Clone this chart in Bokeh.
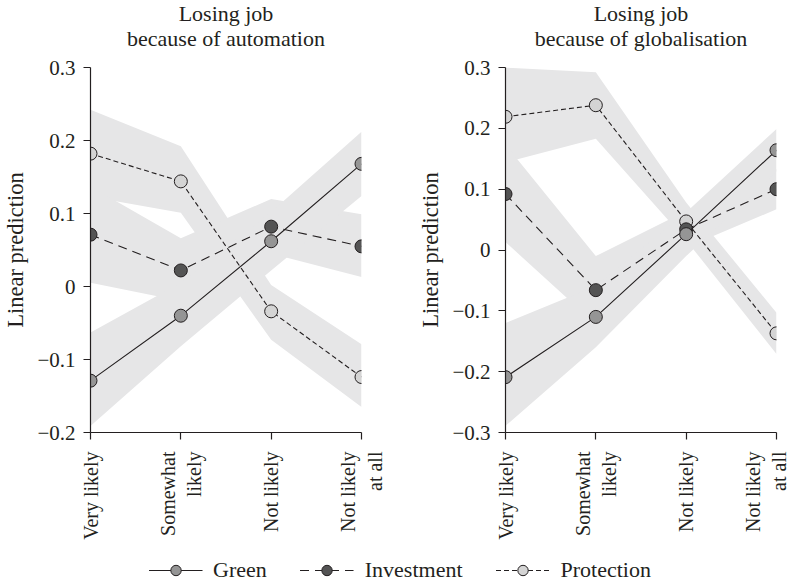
import math
from bokeh.plotting import figure
from bokeh.models import Range1d, FixedTicker, ColumnDataSource, Legend, LegendItem, Title
from bokeh.layouts import row, column
from bokeh.embed import file_html
from bokeh.resources import INLINE

# ---------------- data ----------------
categories = ["Very likely", "Somewhat\nlikely", "Not likely", "Not likely\nat all"]
series_names = ["Green", "Investment", "Protection"]

title_top = "Losing job"
title_bottom = ["because of automation", "because of globalisation"]

# Left panel: automation
auto_green = [-0.129, -0.040, 0.062, 0.168]
auto_green_lo = [-0.191, -0.082, 0.022, 0.124]
auto_green_hi = [-0.063, 0.005, 0.102, 0.212]
auto_invest = [0.071, 0.022, 0.082, 0.055]
auto_invest_lo = [0.005, -0.020, 0.045, 0.013]
auto_invest_hi = [0.137, 0.066, 0.120, 0.099]
auto_protect = [0.182, 0.144, -0.034, -0.124]
auto_protect_lo = [0.123, 0.101, -0.073, -0.165]
auto_protect_hi = [0.242, 0.192, 0.002, -0.079]

# Right panel: globalisation
glob_green = [-0.209, -0.110, 0.026, 0.164]
glob_green_lo = [-0.289, -0.160, -0.010, 0.129]
glob_green_hi = [-0.120, -0.059, 0.062, 0.199]
glob_invest = [0.092, -0.066, 0.034, 0.100]
glob_invest_lo = [0.013, -0.122, 0.004, 0.067]
glob_invest_hi = [0.173, -0.010, 0.064, 0.133]
glob_protect = [0.219, 0.238, 0.047, -0.137]
glob_protect_lo = [0.144, 0.183, 0.016, -0.171]
glob_protect_hi = [0.300, 0.292, 0.078, -0.103]

auto_yticks = [-0.2, -0.1, 0, 0.1, 0.2, 0.3]
glob_yticks = [-0.3, -0.2, -0.1, 0, 0.1, 0.2, 0.3]

# ---------------- style ----------------
FONT = "Liberation Serif"
TXT = "#231f20"
BAND = "#e6e6e7"
LINE = "#231f20"
FILLS = {"Green": "#959595", "Investment": "#545454", "Protection": "#d4d4d4"}
DASH = {"Green": "solid", "Investment": "9 6", "Protection": "5 3"}


def ylabel(v):
    if v == 0:
        return "0"
    s = f"{abs(v):.1f}"
    return ("\u2212" + s) if v < 0 else s


def style_title(t, standoff):
    t.align = "center"
    t.text_font = FONT
    t.text_font_size = "22px"
    t.text_font_style = "normal"
    t.text_color = TXT
    t.standoff = standoff


def panel(subtitle, yticks, data, left, right):
    xs = list(range(len(categories)))
    p = figure(frame_width=271, frame_height=365, output_backend="svg", toolbar_location=None,
               x_range=Range1d(0, len(categories) - 1),
               y_range=Range1d(min(yticks), max(yticks)),
               min_border_left=left, min_border_right=right,
               min_border_top=67, min_border_bottom=100)
    p.outline_line_color = None
    p.grid.visible = False
    p.background_fill_color = "white"
    p.border_fill_color = "white"

    p.title.text = title_top
    style_title(p.title, -37)
    t2 = Title(text=subtitle)
    style_title(t2, 33)
    p.add_layout(t2, "above")

    # bands
    for name in ["Protection", "Investment", "Green"]:
        mid, lo, hi = data[name]
        p.varea(x=xs, y1=lo, y2=hi, fill_color=BAND, fill_alpha=1.0)
    # lines + markers
    for name in ["Protection", "Investment", "Green"]:
        mid, lo, hi = data[name]
        p.line(xs, mid, line_color=LINE, line_width=1.1, line_dash=DASH[name])
        p.scatter(xs, mid, size=13, fill_color=FILLS[name], line_color=LINE, line_width=1)

    # axes
    p.xaxis.ticker = FixedTicker(ticks=xs)
    p.xaxis.major_label_overrides = {i: c for i, c in enumerate(categories)}
    p.xaxis.major_label_orientation = math.pi / 2
    p.yaxis.ticker = FixedTicker(ticks=yticks)
    p.yaxis.major_label_overrides = {v: ylabel(v) for v in yticks}
    p.yaxis.axis_label = "Linear prediction"
    p.yaxis.axis_label_standoff = 6
    for ax in (p.xaxis, p.yaxis):
        ax.axis_line_color = LINE
        ax.axis_line_width = 1.2
        ax.major_tick_line_color = LINE
        ax.major_tick_line_width = 1.2
        ax.major_tick_in = 0
        ax.major_tick_out = 7
        ax.minor_tick_line_color = None
        ax.major_label_text_color = TXT
        ax.axis_label_text_font = FONT
        ax.axis_label_text_font_size = "22.5px"
        ax.axis_label_text_font_style = "normal"
        ax.axis_label_text_color = TXT
        ax.major_label_text_font = FONT
    p.xaxis.major_label_text_font_size = "20px"
    p.yaxis.major_label_text_font_size = "21px"
    p.xaxis.major_label_standoff = 12
    p.yaxis.major_label_standoff = 8
    return p


auto_data = {"Green": (auto_green, auto_green_lo, auto_green_hi),
             "Investment": (auto_invest, auto_invest_lo, auto_invest_hi),
             "Protection": (auto_protect, auto_protect_lo, auto_protect_hi)}
glob_data = {"Green": (glob_green, glob_green_lo, glob_green_hi),
             "Investment": (glob_invest, glob_invest_lo, glob_invest_hi),
             "Protection": (glob_protect, glob_protect_lo, glob_protect_hi)}

p1 = panel(title_bottom[0], auto_yticks, auto_data, 83, 38)
p2 = panel(title_bottom[1], glob_yticks, glob_data, 106, 14)

# legend strip (its renderers hold the data but sit outside the visible range)
lf = figure(width=783, height=41, output_backend="svg", toolbar_location=None,
            x_range=Range1d(100, 101), y_range=Range1d(100, 101),
            min_border=0, min_border_left=16, min_border_right=0)
lf.axis.visible = False
lf.grid.visible = False
lf.outline_line_color = None
xs_all = list(range(len(categories)))
items = []
for name, vals in zip(series_names, [auto_green, auto_invest, auto_protect]):
    src = ColumnDataSource(dict(x=xs_all, y=vals))
    l = lf.line("x", "y", source=src, line_color=LINE, line_width=1.1, line_dash=DASH[name])
    s = lf.scatter("x", "y", source=src, size=10, fill_color=FILLS[name], line_color=LINE)
    items.append(LegendItem(label=name, renderers=[l, s]))
leg = Legend(items=items, orientation="horizontal", location="bottom_center",
             glyph_width=54, glyph_height=26, label_standoff=11, spacing=33,
             padding=0, margin=0, border_line_color=None, background_fill_alpha=0,
             label_text_font=FONT, label_text_font_size="22px", label_text_color=TXT)
lf.add_layout(leg, "center")

layout = column(row(p1, p2), lf)
open("out.html", "w").write(file_html(layout, INLINE))
